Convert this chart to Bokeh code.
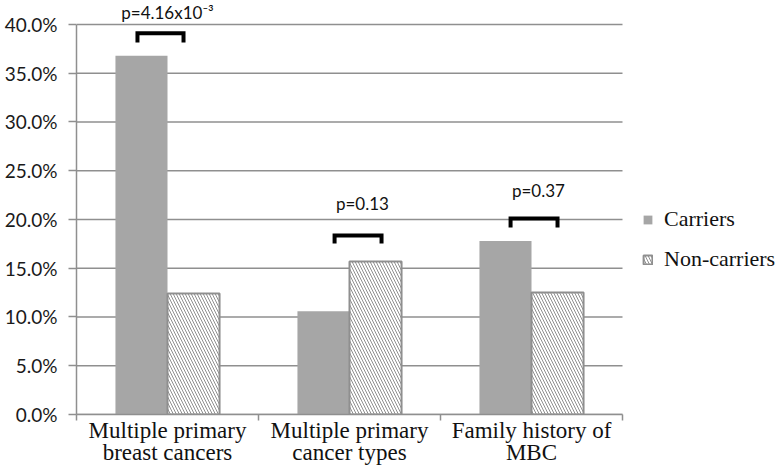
from bokeh.plotting import figure
from bokeh.models import (Range1d, FixedTicker, NumeralTickFormatter, Legend,
                          LegendItem, ColumnDataSource)
from bokeh.transform import dodge
from bokeh.core.properties import value
from bokeh.embed import file_html
from bokeh.resources import INLINE

# ---- data ----
categories = ["Multiple primary\nbreast cancers",
              "Multiple primary\ncancer types",
              "Family history of\nMBC"]
carriers = [0.368, 0.106, 0.178]
non_carriers = [0.124, 0.157, 0.125]
y_ticks = [0.0, 0.05, 0.10, 0.15, 0.20, 0.25, 0.30, 0.35, 0.40]

p_labels = ["p=4.16x10\u207b\u00b3", "p=0.13", "p=0.37"]
p_label_offsets = [0.0, 0.071, 0.038]
p_label_y = [0.4123, 0.2164, 0.2297]
bracket_left = [-0.165, -0.082, -0.115]
bracket_right = [0.088, 0.176, 0.143]
bracket_top = [0.391, 0.1836, 0.2010]
bracket_bottom = [0.3815, 0.1754, 0.1918]

GRAY = "#8f8f8f"
BAR = "#a6a6a6"
SERIF = "'Liberation Serif', 'Times New Roman', serif"

# category slots: each category occupies one unit on the x scale
n = len(categories)
centres = [i + 0.5 for i in range(n)]
bounds = [float(i) for i in range(n + 1)]

source = ColumnDataSource(dict(pos=centres, carriers=carriers, non=non_carriers))

# plot area spans 546 px for the 3 categories; the rest on the right holds the legend
x_end = n * (783 - 76) / 546.0
p = figure(x_range=Range1d(0, x_end),
           y_range=Range1d(0, 0.4246),
           width=783, height=476, output_backend="svg", toolbar_location=None,
           min_border_left=76, min_border_right=0, min_border_top=0,
           min_border_bottom=62)
p.outline_line_color = None
p.background_fill_color = "white"
p.xgrid.visible = False
p.ygrid.visible = False

# horizontal gridlines limited to the category area
p.segment(x0=[0] * len(y_ticks), x1=[n] * len(y_ticks), y0=y_ticks, y1=y_ticks,
          line_color=GRAY, line_width=1.5)

# bars
r1 = p.vbar(x=dodge("pos", -0.143), top="carriers", width=0.286,
            source=source, fill_color=BAR, line_color=None)
r2 = p.vbar(x=dodge("pos", 0.143), top="non", width=0.286,
            source=source, fill_color="white", line_color=GRAY, line_width=2,
            hatch_pattern="\\", hatch_color=GRAY, hatch_weight=1, hatch_scale=6)

# y axis
yax = p.yaxis[0]
yax.ticker = FixedTicker(ticks=y_ticks)
yax.formatter = NumeralTickFormatter(format="0.0%")
yax.bounds = (0, 0.40)
yax.axis_line_color = GRAY
yax.axis_line_width = 1.5
yax.major_tick_out = 8
yax.major_tick_in = 0
yax.major_tick_line_color = GRAY
yax.major_tick_line_width = 1.5
yax.minor_tick_line_color = None
yax.major_label_text_font = "Lato"
yax.major_label_text_font_size = "19px"
yax.major_label_text_color = "#1a1a1a"
yax.major_label_standoff = 11

# x axis (category labels at centres, ticks at group boundaries)
xax = p.xaxis[0]
xax.bounds = (0, n)
xax.ticker = FixedTicker(ticks=centres, minor_ticks=bounds)
xax.major_label_overrides = {c: lab for c, lab in zip(centres, categories)}
xax.major_tick_line_color = None
xax.major_tick_out = 0
xax.minor_tick_out = 6
xax.minor_tick_in = 0
xax.minor_tick_line_color = GRAY
xax.minor_tick_line_width = 1.5
xax.axis_line_color = GRAY
xax.axis_line_width = 1.5
xax.major_label_text_font = SERIF
xax.major_label_text_font_size = "23px"
xax.major_label_text_color = "#111111"
xax.major_label_text_line_height = 0.9
xax.major_label_standoff = -3

# brackets
xs, ys = [], []
for c, l, r, t, b in zip(centres, bracket_left, bracket_right, bracket_top, bracket_bottom):
    xs.append([c + l, c + l, c + r, c + r])
    ys.append([b, t, t, b])
p.multi_line(xs=xs, ys=ys, line_color="black", line_width=4, line_join="miter")

# p-value labels
p.text(x=[c + o for c, o in zip(centres, p_label_offsets)], y=p_label_y, text=p_labels,
       text_font=value("Lato"), text_font_size="17px", text_align="center",
       text_baseline="middle", text_color="#111111")

legend = Legend(items=[LegendItem(label="Carriers", renderers=[r1]),
                       LegendItem(label="Non-carriers", renderers=[r2])],
                location=(566, 142), glyph_width=11, glyph_height=11,
                label_text_font=SERIF, label_text_font_size="22px",
                label_text_color="#111111",
                label_height=22, spacing=14, padding=0, margin=0, label_standoff=11,
                border_line_color=None, background_fill_alpha=0)
p.add_layout(legend)

open("out.html", "w").write(file_html(p, INLINE))
